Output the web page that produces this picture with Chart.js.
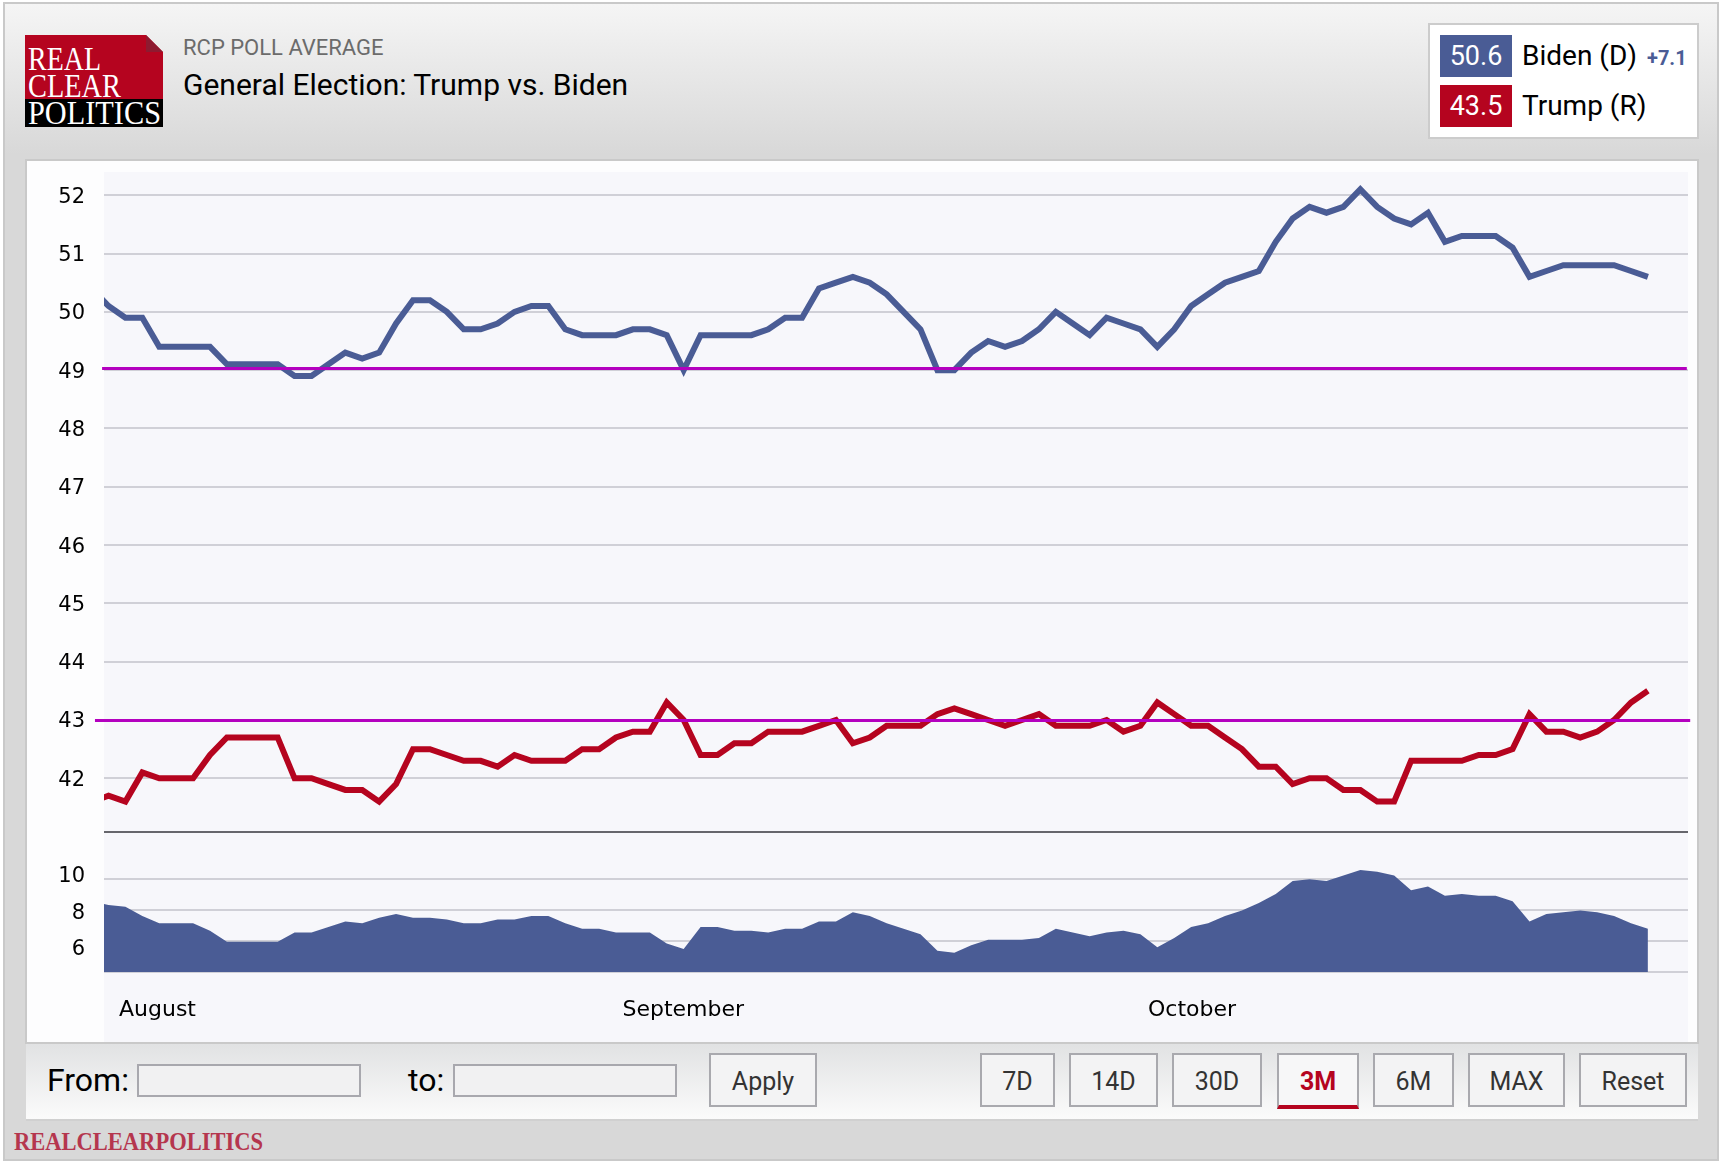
<!DOCTYPE html>
<html>
<head>
<meta charset="utf-8">
<title>General Election: Trump vs. Biden</title>
<script src="https://cdn.jsdelivr.net/npm/chart.js@4"></script>
<style>
html,body{margin:0;padding:0;background:#fff;}
#page{position:relative;width:1721px;height:1163px;overflow:hidden;font-family:Roboto,sans-serif;}
#page div,#page span{position:absolute;white-space:nowrap;box-sizing:border-box;}
#outer{left:3px;top:2px;width:1716px;height:1159px;border:2px solid #c9c9c9;background:linear-gradient(#f5f5f5 0,#d8d8d8 150px,#d8d8d8 100%);}
#panel{left:25px;top:159px;width:1674px;height:885px;background:#fdfdfe;border:2px solid #c9c9c9;}
#plotbg{left:104px;top:172px;width:1584px;height:870px;background:#f7f7fb;}
#bar{left:26px;top:1044px;width:1672px;height:77px;background:linear-gradient(#e1e2e3,#fbfbfb);border-bottom:2px solid #d0d0d0;}
canvas{position:absolute;left:26px;top:140px;}
#legend{left:1428px;top:23px;width:271px;height:116px;background:#fff;border:2px solid #ccc;}
.swatch{left:1440px;width:72px;height:42px;color:#fff;font-size:27px;line-height:42px;text-align:center;}
.name{left:1522px;font-size:28px;line-height:42px;color:#000;}
.btn{top:1053px;height:54px;background:#f3f3f4;border:2px solid #a9a9ae;color:#333;font-size:25px;line-height:54px;text-align:center;}
.field{top:1064px;height:33px;background:#f1f1f2;border:2px solid #a8a8ae;}
.lbl{top:1059px;font-size:32px;line-height:42px;color:#000;}
svg{position:absolute;overflow:visible;}
</style>
</head>
<body>
<div id="page">
  <div id="outer"></div>
  <svg style="left:0;top:0" width="1721" height="160">
    <polygon points="25,35 146,35 163,52 163,99 25,99" fill="#b5041f"/>
    <polygon points="146,35 163,52 146,52" fill="#8e1a30"/>
    <rect x="25" y="99" width="138" height="28" fill="#000"/>
    <g font-family="Liberation Serif" font-size="33" fill="#fff">
      <text x="28" y="70" textLength="73" lengthAdjust="spacingAndGlyphs">REAL</text>
      <text x="28" y="97" textLength="93" lengthAdjust="spacingAndGlyphs">CLEAR</text>
      <text x="28" y="124" textLength="133" lengthAdjust="spacingAndGlyphs">POLITICS</text>
    </g>
  </svg>
  <span style="left:183px;top:35px;font-size:22px;line-height:26px;color:#6b6b6b">RCP POLL AVERAGE</span>
  <span style="left:183px;top:67px;font-size:30px;line-height:36px;color:#000">General Election: Trump vs. Biden</span>
  <div id="legend"></div>
  <span class="swatch" style="top:35px;background:#4a5c95">50.6</span>
  <span class="swatch" style="top:85px;background:#b5041f">43.5</span>
  <span class="name" style="top:35px">Biden (D)</span>
  <span class="name" style="top:85px">Trump (R)</span>
  <span style="left:1647px;top:45px;font-size:20px;line-height:26px;font-weight:700;color:#4a5c95">+7.1</span>

  <div id="panel"></div>
  <div id="plotbg"></div>
  <canvas id="pollChart" width="1672" height="903"></canvas>

  <div id="bar"></div>
  <span class="lbl" style="left:47px">From:</span>
  <div class="field" style="left:137px;width:224px"></div>
  <span class="lbl" style="left:408px">to:</span>
  <div class="field" style="left:453px;width:224px"></div>
  <span class="btn" style="left:709px;width:108px">Apply</span>
  <span class="btn" style="left:980px;width:75px">7D</span>
  <span class="btn" style="left:1069px;width:89px">14D</span>
  <span class="btn" style="left:1172px;width:90px">30D</span>
  <span class="btn" style="left:1277px;width:82px;color:#b5041f;font-weight:700;background:#f7f7f8;border-bottom:4px solid #b5041f;height:56px">3M</span>
  <span class="btn" style="left:1373px;width:81px">6M</span>
  <span class="btn" style="left:1468px;width:97px">MAX</span>
  <span class="btn" style="left:1579px;width:108px">Reset</span>
  <svg style="left:0;top:1120px" width="400" height="40">
    <text x="14" y="30" font-family="Liberation Serif" font-weight="700" font-size="25" fill="#b5364e" textLength="249" lengthAdjust="spacingAndGlyphs">REALCLEARPOLITICS</text>
  </svg>
</div>

<script>
let biden = [50.4,50.1,49.9,49.9,49.4,49.4,49.4,49.4,49.1,49.1,49.1,49.1,48.9,48.9,49.1,49.3,49.2,49.3,49.8,50.2,50.2,50.0,49.7,49.7,49.8,50.0,50.1,50.1,49.7,49.6,49.6,49.6,49.7,49.7,49.6,49.0,49.6,49.6,49.6,49.6,49.7,49.9,49.9,50.4,50.5,50.6,50.5,50.3,50.0,49.7,49.0,49.0,49.3,49.5,49.4,49.5,49.7,50.0,49.8,49.6,49.9,49.8,49.7,49.4,49.7,50.1,50.3,50.5,50.6,50.7,51.2,51.6,51.8,51.7,51.8,52.1,51.8,51.6,51.5,51.7,51.2,51.3,51.3,51.3,51.1,50.6,50.7,50.8,50.8,50.8,50.8,50.7,50.6];
let trump = [41.6,41.7,41.6,42.1,42.0,42.0,42.0,42.4,42.7,42.7,42.7,42.7,42.0,42.0,41.9,41.8,41.8,41.6,41.9,42.5,42.5,42.4,42.3,42.3,42.2,42.4,42.3,42.3,42.3,42.5,42.5,42.7,42.8,42.8,43.3,43.0,42.4,42.4,42.6,42.6,42.8,42.8,42.8,42.9,43.0,42.6,42.7,42.9,42.9,42.9,43.1,43.2,43.1,43.0,42.9,43.0,43.1,42.9,42.9,42.9,43.0,42.8,42.9,43.3,43.1,42.9,42.9,42.7,42.5,42.2,42.2,41.9,42.0,42.0,41.8,41.8,41.6,41.6,42.3,42.3,42.3,42.3,42.4,42.4,42.5,43.1,42.8,42.8,42.7,42.8,43.0,43.3,43.5];
let spread = [8.6,8.4,8.3,7.8,7.4,7.4,7.4,7.0,6.4,6.4,6.4,6.4,6.9,6.9,7.2,7.5,7.4,7.7,7.9,7.7,7.7,7.6,7.4,7.4,7.6,7.6,7.8,7.8,7.4,7.1,7.1,6.9,6.9,6.9,6.3,6.0,7.2,7.2,7.0,7.0,6.9,7.1,7.1,7.5,7.5,8.0,7.8,7.4,7.1,6.8,5.9,5.8,6.2,6.5,6.5,6.5,6.6,7.1,6.9,6.7,6.9,7.0,6.8,6.1,6.6,7.2,7.4,7.8,8.1,8.5,9.0,9.7,9.8,9.7,10.0,10.3,10.2,10.0,9.2,9.4,8.9,9.0,8.9,8.9,8.6,7.5,7.9,8.0,8.1,8.0,7.8,7.4,7.1];

let priceTicks = [42,43,44,45,46,47,48,49,50,51,52];
let spreadGrid = [4.75,6.44,8.13,9.82];
let spreadLabels = [6,8,10];
let spreadTop = 12.38;
let months = ['August','September','October'];
let monthPos = [1.62,31.38,62.45];
let bidenRef = [49.03,0.62,94.3];
let trumpRef = [42.99,0.2,94.5];

const BLUE = '#4a5c95', RED = '#b5041f', MAGENTA = '#b400bf', GRID = '#d0d0d7';
const toPoints = arr => arr.map((y,i) => ({x:i,y:y}));
const refLine = r => ({
  data:[{x:r[1],y:r[0]},{x:r[2],y:r[0]}],
  yAxisID:'y', borderColor:MAGENTA, borderWidth:3, pointRadius:0, clip:false
});
const tickFont = {family:'DejaVu Sans',size:21};

new Chart(document.getElementById('pollChart').getContext('2d'), {
  type:'line',
  data:{
    datasets:[
      refLine(bidenRef),
      refLine(trumpRef),
      {data:toPoints(biden),yAxisID:'y',borderColor:BLUE,borderWidth:6,pointRadius:0,tension:0,borderJoinStyle:'miter',clip:0},
      {data:toPoints(trump),yAxisID:'y',borderColor:RED,borderWidth:6,pointRadius:0,tension:0,borderJoinStyle:'miter',clip:0},
      {data:toPoints(spread),yAxisID:'ySpread',borderWidth:0,pointRadius:0,tension:0,fill:'start',backgroundColor:BLUE,clip:0}
    ]
  },
  options:{
    responsive:false,
    animation:false,
    devicePixelRatio:1,
    layout:{autoPadding:false,padding:{top:12,right:10,left:0,bottom:0}},
    plugins:{legend:{display:false},tooltip:{enabled:false}},
    scales:{
      x:{
        type:'linear',min:0.734,max:94.37,
        grid:{display:false},border:{display:false},
        afterBuildTicks:s => { s.ticks = monthPos.map(v => ({value:v})); },
        afterFit:s => { s.height = 71; },
        ticks:{
          autoSkip:false,maxRotation:0,minRotation:0,align:'start',padding:17,
          color:'#000',font:{family:'DejaVu Sans',size:22},
          callback:(v,i) => months[i]
        }
      },
      y:{
        stack:'pane',stackWeight:659,position:'left',weight:1,
        min:41.083,max:52.405,
        border:{display:false},
        grid:{color:GRID,lineWidth:2,drawTicks:false},
        afterBuildTicks:s => { s.ticks = priceTicks.map(v => ({value:v})); },
        afterFit:s => { s.width = 78; },
        ticks:{autoSkip:false,padding:19,labelOffset:2,color:'#000',font:tickFont,callback:v => v}
      },
      ySpread:{
        stack:'pane',stackWeight:140,position:'left',weight:0,
        min:4.75,max:spreadTop,
        border:{display:false},
        grid:{
          drawTicks:false,lineWidth:2,
          color:c => c.tick.value === spreadTop ? '#66666c' : (spreadLabels.includes(c.tick.value) ? 'transparent' : GRID)
        },
        afterBuildTicks:s => {
          s.ticks = spreadGrid.concat(spreadLabels,[spreadTop]).sort((a,b) => a-b).map(v => ({value:v}));
        },
        afterFit:s => { s.width = 78; },
        ticks:{autoSkip:false,padding:19,labelOffset:1,color:'#000',font:tickFont,
          callback:v => spreadLabels.includes(v) ? v : ''}
      }
    }
  }
});
</script>
</body>
</html>
